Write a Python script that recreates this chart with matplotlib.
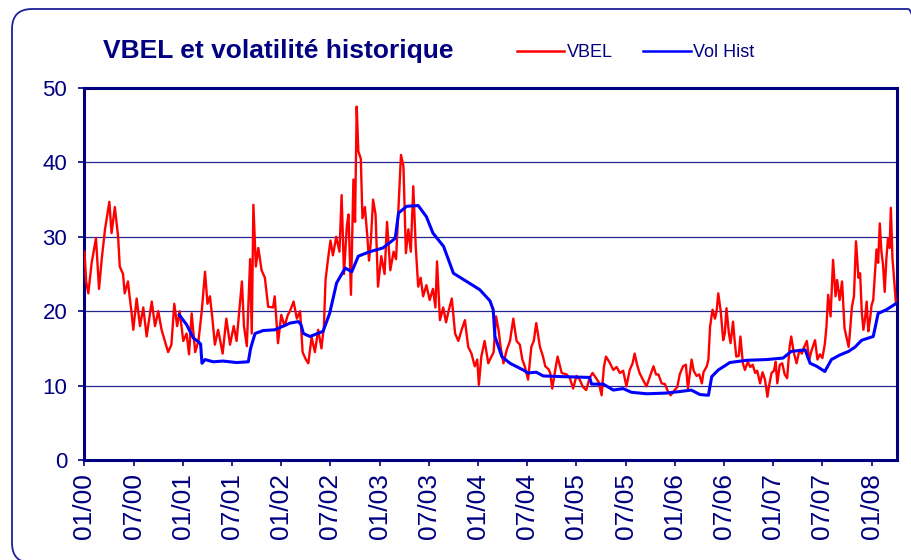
import matplotlib
matplotlib.use("Agg")
import matplotlib.pyplot as plt
from matplotlib.patches import FancyBboxPatch
from matplotlib.lines import Line2D
from matplotlib.transforms import IdentityTransform

# ---- data (x = months since Jan 2000) ----
vbel_pts = [
    (0.0, 28), (0.2, 24), (0.47, 22.4), (0.87, 26.5), (1.4, 29.8), (1.77, 23), (2.1, 27), (2.5, 31),
    (3.03, 34.7), (3.3, 30.5), (3.7, 34), (4.1, 30), (4.3, 26), (4.7, 25), (4.9, 22.4), (5.3, 24),
    (5.5, 22), (5.75, 19.7), (5.95, 17.5), (6.36, 21.7), (6.77, 18), (7.17, 20.5), (7.58, 16.6),
    (8.2, 21.3), (8.6, 18), (9.0, 20), (9.4, 17.5), (9.8, 16), (10.2, 14.5), (10.6, 15.5),
    (10.95, 21), (11.3, 18), (11.6, 20), (12.05, 16), (12.45, 17), (12.75, 14.2), (13.07, 19.7),
    (13.5, 14.5), (13.9, 16), (14.3, 20), (14.7, 25.3), (15.0, 21), (15.3, 22), (15.6, 19),
    (15.9, 15.5), (16.3, 17.5), (16.85, 14.3), (17.3, 19), (17.75, 15.5), (18.2, 18), (18.55, 16),
    (19.2, 24), (19.45, 18), (19.8, 15.3), (20.2, 27), (20.4, 17), (20.6, 34.3), (20.9, 26),
    (21.2, 28.5), (21.6, 25.5), (22.0, 24.5), (22.4, 20.6), (23.0, 20.5), (23.2, 22), (23.6, 15.7),
    (24.0, 19.5), (24.4, 18), (24.8, 19.5),
    (25.06, 20), (25.5, 21.3), (25.9, 19), (26.3, 20), (26.6, 14.5), (27.0, 13.5), (27.3, 13),
    (27.7, 16.5), (28.1, 14.5), (28.5, 17.5), (28.9, 15), (29.2, 18), (29.4, 24.2), (29.7, 27),
    (30.0, 29.5), (30.3, 27.5), (30.7, 30), (31.1, 28), (31.36, 35.6), (31.65, 25), (32.0, 31.5),
    (32.2, 33), (32.5, 22.2), (32.8, 37.7), (33.0, 32), (33.2, 47.5), (33.4, 41.5), (33.7, 40.5),
    (33.9, 32.5), (34.2, 34), (34.5, 30), (34.7, 26.8), (34.9, 29), (35.2, 35), (35.5, 33),
    (35.8, 23.3), (36.2, 27.4), (36.6, 25), (36.9, 32), (37.3, 25.5), (37.7, 28), (38.0, 27),
    (38.3, 34), (38.6, 41), (38.9, 39.5), (39.2, 27.8), (39.5, 31), (39.8, 28), (40.1, 36.8),
    (40.4, 28.7), (40.7, 23.3), (41.0, 24.5), (41.3, 22), (41.7, 23.5), (42.1, 21.5), (42.5, 23),
    (42.8, 20.5), (43.0, 26.7), (43.35, 18.8), (43.75, 20.5), (44.1, 18.5), (44.4, 20), (44.8, 21.7),
    (45.2, 17), (45.6, 16), (46.0, 17.5), (46.4, 18.8), (46.8, 15.2), (47.2, 14.3), (47.6, 12.6),
    (47.9, 13.5), (48.1, 10.1), (48.4, 13.9), (48.8, 16), (49.25, 13),
    (49.45, 13.5), (49.9, 14.5), (50.2, 19.3), (50.5, 17.5), (50.75, 15.2), (51.1, 13), (51.5, 14.8),
    (51.9, 16), (52.3, 19), (52.7, 16), (53.1, 15.5), (53.4, 13.5), (53.7, 12.6), (54.1, 10.8),
    (54.5, 15.2), (54.8, 16), (55.1, 18.4), (55.55, 15.2), (55.9, 14), (56.2, 12.6), (56.6, 12.2),
    (56.8, 11.7), (57.05, 9.6), (57.4, 12), (57.7, 13.9), (58.2, 11.7), (58.8, 11.5), (59.2, 11),
    (59.6, 9.6), (60.0, 11.3), (60.4, 10.8), (60.8, 9.8), (61.2, 9.4), (61.6, 11), (61.97, 11.7),
    (62.4, 11), (62.7, 10.5), (63.07, 8.7), (63.35, 12.5), (63.6, 13.9), (64.0, 13.2), (64.5, 12.1),
    (64.9, 12.5), (65.3, 11.7), (65.7, 12), (66.1, 9.9), (66.5, 12.1), (66.85, 13), (67.1, 14.3),
    (67.4, 12.8), (67.7, 11.7), (68.1, 10.8), (68.55, 9.9), (68.96, 11.2), (69.4, 12.6), (69.7, 11.5),
    (70.0, 11.5), (70.4, 10.3), (70.8, 10.2), (71.2, 9.1), (71.5, 8.7), (71.9, 9.3), (72.3, 9.8),
    (72.6, 11.5), (73.0, 12.6), (73.35, 12.8), (73.6, 9.6),
    (74.05, 13.5), (74.3, 12), (74.65, 11.3), (74.98, 11.5), (75.3, 10.3), (75.5, 11.8), (75.9, 12.6),
    (76.1, 13.5), (76.3, 17.9), (76.6, 20.2), (76.9, 19), (77.1, 20), (77.3, 22.4), (77.6, 20),
    (77.9, 16.1), (78.1, 17), (78.3, 20.4), (78.6, 17), (78.8, 15.7), (79.1, 18.6), (79.3, 16),
    (79.5, 13.9), (79.8, 14), (80.0, 16.6), (80.3, 13), (80.55, 12.1), (80.9, 13.2), (81.2, 12.5),
    (81.5, 12.8), (81.8, 11.7), (82.05, 12), (82.4, 10.3), (82.7, 11.8), (83.0, 10.8), (83.3, 8.5),
    (83.5, 10), (83.8, 11.7), (84.1, 12), (84.3, 13.2), (84.5, 10.3), (84.8, 12.8), (85.1, 13),
    (85.4, 11.5), (85.7, 11), (86.0, 15.2), (86.2, 16.6), (86.5, 14.5), (86.85, 13), (87.2, 14.8),
    (87.5, 14.3), (87.7, 15), (88.1, 16), (88.4, 13.5), (88.7, 14.8), (89.1, 16.1), (89.4, 13.5),
    (89.7, 14.2), (90.0, 13.7), (90.3, 15.6), (90.5, 18), (90.7, 22.2), (91.0, 19.3), (91.3, 26.9),
    (91.6, 22), (91.8, 24.2), (92.1, 21.5), (92.4, 24), (92.7, 17.7), (93.2, 15.2), (93.35, 17),
    (93.6, 20.6), (93.85, 22), (94.1, 29.4), (94.4, 24.5), (94.6, 25.1), (94.8, 20), (95.0, 17.5),
    (95.2, 19), (95.4, 21.3), (95.6, 17.3), (95.8, 18.8), (96.0, 20.8), (96.2, 21.5), (96.4, 25),
    (96.6, 28.3), (96.8, 26.5), (97.0, 31.8), (97.2, 28), (97.4, 26.2), (97.6, 22.6), (97.8, 27),
    (98.0, 29.8), (98.2, 28.5), (98.35, 33.9), (98.55, 27), (98.7, 25), (98.95, 21.3),
]

vol_pts = [
    (11.56, 19.5), (12.45, 18.2), (13.27, 16.4), (13.88, 15.9), (14.16, 15.6), (14.33, 13),
    (14.7, 13.5), (15.7, 13.2), (16.9, 13.3), (18.55, 13.1), (19.98, 13.2), (20.26, 15),
    (20.8, 17), (21.8, 17.4), (23.2, 17.5), (24.25, 18), (25.06, 18.4), (26.1, 18.6), (26.4, 18.2),
    (26.7, 17), (27.5, 16.6), (29.1, 17.3), (29.9, 19.7), (30.75, 23.8), (31.8, 25.8), (32.6, 25.3),
    (33.4, 27.4), (34.8, 28), (36.4, 28.5), (37.9, 29.8), (38.3, 33.2), (39.3, 34.1), (40.7, 34.2),
    (41.7, 32.7), (42.5, 30.5), (43.8, 28.7), (45.0, 25.1), (46.6, 24), (48.2, 22.9), (49.45, 21.4),
    (49.85, 20.2), (50.06, 16.6), (50.5, 15.2), (50.9, 13.9), (51.9, 13), (53.5, 12.1), (54.1, 11.7),
    (55.1, 11.8), (55.95, 11.3), (58.4, 11.2), (61.6, 11.1), (61.85, 10.2), (63.27, 10.2),
    (64.5, 9.4), (65.7, 9.6), (66.7, 9.1), (68.6, 8.9), (71.0, 9.0), (72.6, 9.2), (74.0, 9.4),
    (75.06, 8.8), (76.1, 8.7), (76.5, 11.2), (77.3, 12.1), (78.3, 12.8), (78.7, 13.1), (80.75, 13.4),
    (83.2, 13.5), (85.2, 13.7), (86.2, 14.6), (87.9, 14.8), (88.5, 13), (89.3, 12.6), (90.3, 11.9),
    (91.1, 13.5), (92.1, 14.1), (93.2, 14.6), (94.0, 15.2), (94.8, 16.1), (96.2, 16.6), (96.8, 19.7),
    (97.8, 20.2), (98.95, 21),
]

tick_months = [0, 6, 12, 18, 24, 30, 36, 42, 48, 54, 60, 66, 72, 78, 84, 90, 96]
tick_labels = ["01/00", "07/00", "01/01", "07/01", "01/02", "07/02", "01/03", "07/03",
               "01/04", "07/04", "01/05", "07/05", "01/06", "07/06", "01/07", "07/07", "01/08"]
y_ticks = [0, 10, 20, 30, 40, 50]

title = "VBEL et volatilité historique"
series_names = ["VBEL", "Vol Hist"]

NAVY = "#000080"
RED = "#FF0000"
BLUE = "#0000FF"

plt.rcParams['font.family'] = ['Liberation Sans', 'DejaVu Sans']

W, H = 912, 560
fig = plt.figure(figsize=(W / 100, H / 100), dpi=100, facecolor="white")

# rounded frame
frame = FancyBboxPatch((12, -3), 916, 554, boxstyle="round,pad=0,rounding_size=20",
                       facecolor="none", edgecolor="#1f1f9a", linewidth=1.3,
                       transform=IdentityTransform())
fig.patches.append(frame)

ax = fig.add_axes([84.5 / W, 1 - 460 / H, (897 - 84.5) / W, (460 - 88) / H])
ax.set_facecolor("white")

vx, vy = zip(*vbel_pts)
hx, hy = zip(*vol_pts)
ax.plot(vx, vy, color=RED, lw=1.7, solid_joinstyle="round", zorder=3)
ax.plot(hx, hy, color=BLUE, lw=2.2, solid_joinstyle="round", zorder=4)

ax.set_xlim(0, 99.1)
ax.set_ylim(0, 50)
ax.set_yticks(y_ticks)
ax.set_xticks(tick_months)
ax.set_xticklabels(tick_labels, rotation=90)
ax.grid(axis="y", color=NAVY, lw=0.9, alpha=0.85)
ax.set_axisbelow(True)
for s in ax.spines.values():
    s.set_color(NAVY)
    s.set_linewidth(2.2)
ax.tick_params(axis="both", colors=NAVY, labelcolor=NAVY, direction="out",
               length=4.5, width=1.2, labelsize=16)
ax.tick_params(axis="y", pad=8)
ax.tick_params(axis="x", labelsize=19, pad=5)

# title
fig.text(278 / W, 1 - 58.3 / H, title, ha="center", va="baseline", fontsize=19,
         fontweight="bold", color=NAVY)

# legend
ly = 1 - 50.7 / H
fig.add_artist(Line2D([516.7 / W, 564 / W], [ly, ly], color=RED, lw=1.8, transform=fig.transFigure))
fig.text(567 / W, 1 - 57.3 / H, series_names[0], ha="left", va="baseline", fontsize=13, color=NAVY)
fig.add_artist(Line2D([643 / W, 691 / W], [ly, ly], color=BLUE, lw=1.8, transform=fig.transFigure))
fig.text(693 / W, 1 - 57.3 / H, series_names[1], ha="left", va="baseline", fontsize=13, color=NAVY)

fig.savefig("out.png", dpi=100, facecolor="white")
